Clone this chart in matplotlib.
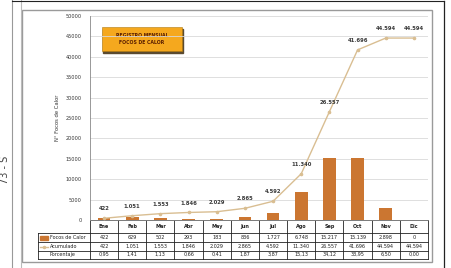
import matplotlib
matplotlib.use("Agg")
import matplotlib.pyplot as plt
from matplotlib.transforms import blended_transform_factory
from matplotlib.patches import Rectangle

months = ["Ene", "Feb", "Mar", "Abr", "May", "Jun", "Jul", "Ago", "Sep", "Oct", "Nov", "Dic"]
focos = [422, 629, 502, 293, 183, 836, 1727, 6748, 15217, 15139, 2898, 0]
acumulado = [422, 1051, 1553, 1846, 2029, 2865, 4592, 11340, 26557, 41696, 44594, 44594]
porcentaje = ["0,95", "1,41", "1,13", "0,66", "0,41", "1,87", "3,87", "15,13", "34,12", "33,95", "6,50", "0,00"]
yticks = [0, 5000, 10000, 15000, 20000, 25000, 30000, 35000, 40000, 45000, 50000]

def fmt(v):
    return f"{v:,}".replace(",", ".")

W, H = 452, 268
fig = plt.figure(figsize=(W / 100, H / 100), dpi=100)
fig.patch.set_facecolor("white")

ov = fig.add_axes([0, 0, 1, 1])
ov.set_xlim(0, W)
ov.set_ylim(H, 0)
ov.axis("off")

bar_c = "#CB7631"
line_c = "#D9BE92"
txt_c = "#333333"

# outer frames
ov.plot([12, 12], [0, H], color="#999999", lw=0.8)
ov.plot([21, 21], [0, H], color="#bbbbbb", lw=0.8)
ov.plot([12, 444], [1, 1], color="#222222", lw=0.8)
ov.plot([444, 444], [1, H], color="#222222", lw=0.9)
ov.add_patch(Rectangle((22, 9.5), 410, 252.5, fill=False, ec="#9a9a9a", lw=1.0))
ov.text(5, 170, "73 - S", rotation=90, ha="center", va="center", fontsize=7, color="#444444")

L, R, T, B = 90, 428, 16, 220
ax = fig.add_axes([L / W, (H - B) / H, (R - L) / W, (B - T) / H])
ax.set_xlim(-0.5, 11.5)
ax.set_ylim(0, 50000)
ax.set_yticks(yticks)
ax.set_yticklabels([str(t) for t in yticks], fontsize=3.6, color=txt_c)
ax.tick_params(axis="y", length=0, pad=6)
ax.set_xticks([])
ax.grid(axis="y", color="#d9d9d9", lw=0.6)
ax.set_axisbelow(True)
for s in ["top", "right"]:
    ax.spines[s].set_visible(False)
ax.spines["left"].set_color("#888888")
ax.spines["left"].set_linewidth(0.6)
ax.spines["bottom"].set_color("#888888")
ax.spines["bottom"].set_linewidth(0.6)
ax.set_ylabel("N° Focos de Calor", fontsize=3.8, color=txt_c, labelpad=4)
ax.patch.set_alpha(0)

x = list(range(len(months)))
ax.bar(x, focos, width=0.45, color=bar_c, zorder=2)
ax.plot(x, acumulado, color=line_c, lw=1.0, marker="o", ms=1.6, mfc=line_c, mec=line_c, zorder=3)
for i, v in enumerate(acumulado):
    ax.annotate(fmt(v), (i, v), xytext=(0, 5), textcoords="offset points", ha="center",
                va="bottom", fontsize=3.8, fontweight="bold", color="#3a3a3a", zorder=4)

# title box
ov.add_patch(Rectangle((103.5, 28.5), 80, 24, color="#5a4a30", zorder=1))
ov.add_patch(Rectangle((102, 27), 80, 24, color="#F5A81E", ec="#b07a10", lw=0.4, zorder=2))
ov.text(142, 39, "REGISTRO MENSUAL\nFOCOS DE CALOR", ha="center", va="center", fontsize=3.3,
        fontweight="bold", color="#5a1e00", zorder=3, linespacing=1.7)
ov.set_zorder(0)
ax.set_zorder(1)

# table
rows_y = [220, 232.5, 242, 250.5, 258.5]
col_w = (R - L) / 12
ov.plot([L, R], [rows_y[0], rows_y[0]], color="#222222", lw=0.6)
for yy in rows_y[1:]:
    ov.plot([38, R], [yy, yy], color="#222222", lw=0.6)
ov.plot([38, 38], [rows_y[1], rows_y[-1]], color="#222222", lw=0.6)
for j in range(13):
    xx = L + j * col_w
    ov.plot([xx, xx], [rows_y[0], rows_y[-1]], color="#222222", lw=0.6)

tr = blended_transform_factory(ax.transData, ov.transData)
cells = [months, [fmt(v) for v in focos], [fmt(v) for v in acumulado], porcentaje]
for r in range(4):
    yc = (rows_y[r] + rows_y[r + 1]) / 2
    for i in range(12):
        ax.text(i, yc, cells[r][i], transform=tr, ha="center", va="center", fontsize=3.5,
                color="#222222", fontweight="bold" if r == 0 else "normal", clip_on=False)

labels = ["Focos de Calor", "Acumulado", "Porcentaje"]
for r in range(3):
    yc = (rows_y[r + 1] + rows_y[r + 2]) / 2
    ov.text(50, yc, labels[r], ha="left", va="center", fontsize=3.5, color="#222222")
ov.add_patch(Rectangle((40, 236), 8, 3.5, color=bar_c))
ov.plot([40, 48], [247, 247], color=line_c, lw=1.0)
ov.plot([44], [247], marker="o", ms=1.5, color=line_c)

fig.savefig("out.png", dpi=100)
